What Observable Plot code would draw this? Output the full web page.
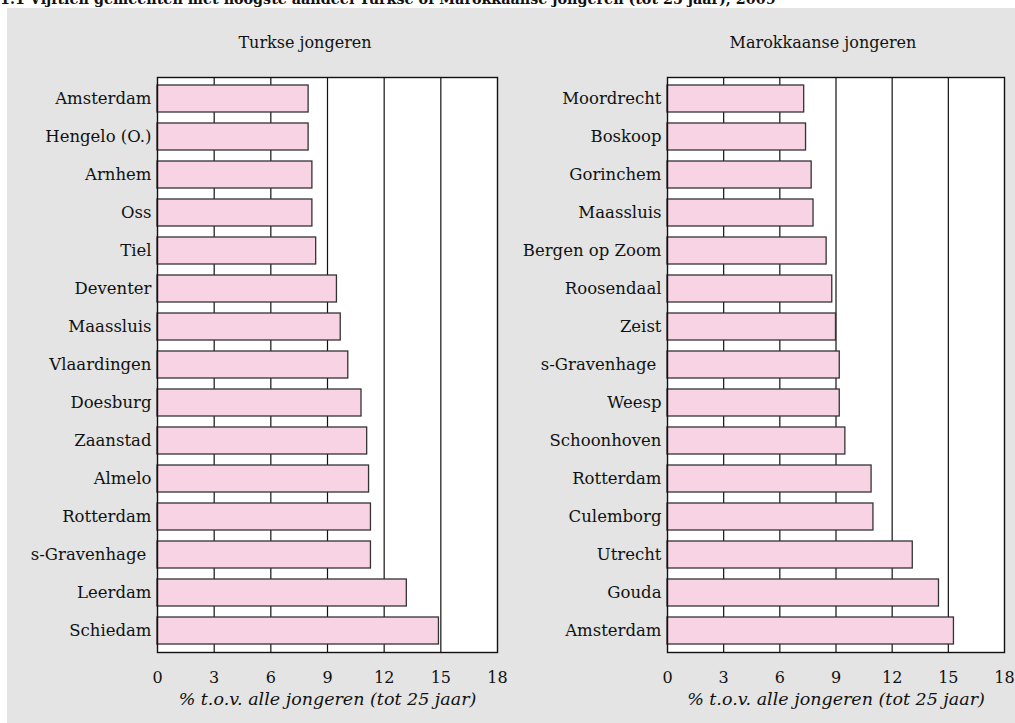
<!DOCTYPE html>
<html>
<head>
<meta charset="utf-8">
<script src="https://cdn.jsdelivr.net/npm/d3@7"></script>
<script src="https://cdn.jsdelivr.net/npm/@observablehq/plot@0.6"></script>
<style>
  html, body { margin: 0; padding: 0; background: #ffffff; }
  body { width: 1015px; height: 723px; position: relative; overflow: hidden; font-family: "DejaVu Serif", serif; }
  #title { position: absolute; left: 0; top: 0; width: 1015px; height: 8px; overflow: hidden; }
  #title span { position: absolute; left: 0; top: -8px; font-weight: bold; font-size: 14.3px; line-height: 14px; white-space: nowrap; color: #111; }
  #panel { position: absolute; left: 7px; top: 8px; width: 1008px; height: 715px; background: #e3e4e3; }
  .facet { position: absolute; top: 25px; font-size: 16px; color: #111; white-space: nowrap; transform: translateX(-50%); }
  .chart { position: absolute; top: 52px; }
</style>
</head>
<body>
<div id="title"><span>1.1  Vijftien gemeenten met hoogste aandeel Turkse of Marokkaanse jongeren (tot 25 jaar), 2009</span></div>
<div id="panel">
  <div class="facet" id="ft1" style="left:298px">Turkse jongeren</div>
  <div class="facet" id="ft2" style="left:816px">Marokkaanse jongeren</div>
  <div class="chart" id="c1" style="left:0px"></div>
  <div class="chart" id="c2" style="left:510px"></div>
</div>
<script>
const turkCities = ["Amsterdam", "Hengelo (O.)", "Arnhem", "Oss", "Tiel", "Deventer", "Maassluis", "Vlaardingen", "Doesburg", "Zaanstad", "Almelo", "Rotterdam", "s-Gravenhage ", "Leerdam", "Schiedam"];
const turkValues = [8.0, 8.0, 8.2, 8.2, 8.4, 9.5, 9.7, 10.1, 10.8, 11.1, 11.2, 11.3, 11.3, 13.2, 14.9];

const marCities = ["Moordrecht", "Boskoop", "Gorinchem", "Maassluis", "Bergen op Zoom", "Roosendaal", "Zeist", "s-Gravenhage ", "Weesp", "Schoonhoven", "Rotterdam", "Culemborg", "Utrecht", "Gouda", "Amsterdam"];
const marValues = [7.3, 7.4, 7.7, 7.8, 8.5, 8.8, 9.0, 9.2, 9.2, 9.5, 10.9, 11.0, 13.1, 14.5, 15.3];

const xTicks = [0, 3, 6, 9, 12, 15, 18];
const gridValues = [3, 6, 9, 12, 15];
const axisLabel = "% t.o.v. alle jongeren (tot 25 jaar)";

function makeChart(cities, values, width, marginRight) {
  const data = cities.map((c, i) => ({city: c, value: values[i]}));
  return Plot.plot({
    width: width,
    height: 663,
    marginLeft: 150,
    marginRight: marginRight,
    marginTop: 17,
    marginBottom: 71,
    style: {background: "transparent", fontFamily: "DejaVu Serif, serif", fontSize: "16px", color: "#111", overflow: "visible"},
    x: {domain: [0, 18]},
    y: {domain: cities, paddingInner: 0.28, paddingOuter: 0.14},
    marks: [
      Plot.frame({fill: "white", stroke: "none"}),
      Plot.ruleX(gridValues, {stroke: "#111", strokeWidth: 1.2}),
      Plot.barX(data, {x: "value", y: "city", fill: "#f7d3e4", stroke: "#333", strokeWidth: 1.3}),
      Plot.frame({stroke: "#111", strokeWidth: 1.4}),
      Plot.axisY({tickSize: 0, tickPadding: 6, label: null, fontSize: 16.5}),
      Plot.axisX({ticks: xTicks, tickSize: 0, tickPadding: 19, label: null, fontSize: 16}),
      Plot.text([axisLabel], {frameAnchor: "bottom", dy: 52, fontStyle: "italic", fontSize: 17.5, fill: "#111"})
    ]
  });
}

document.getElementById("c1").appendChild(makeChart(turkCities, turkValues, 500, 10));
document.getElementById("c2").appendChild(makeChart(marCities, marValues, 498, 11));
</script>
</body>
</html>
